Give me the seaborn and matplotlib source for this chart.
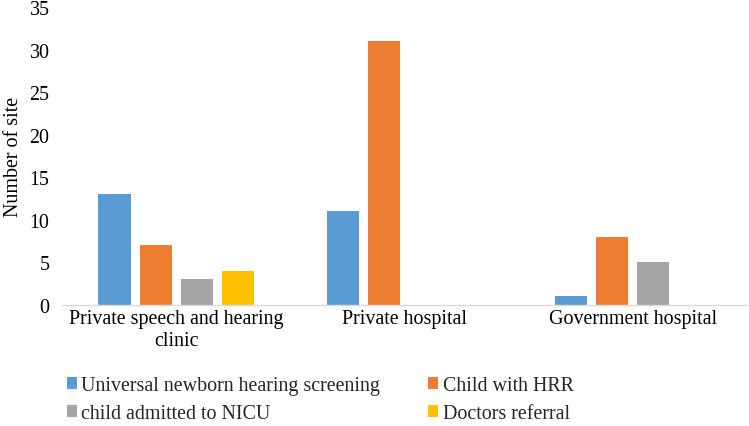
import matplotlib
matplotlib.use("Agg")
import matplotlib.pyplot as plt
import seaborn as sns
import pandas as pd
from matplotlib.patches import Patch

categories = ["Private speech and hearing\nclinic", "Private hospital", "Government hospital"]
series = ["Universal newborn hearing screening", "Child with HRR",
          "child admitted to NICU", "Doctors referral"]
universal = [13, 11, 1]
hrr = [7, 31, 8]
nicu = [3, 0, 5]
referral = [4, 0, 0]
colors = ["#5B9BD5", "#ED7D31", "#A5A5A5", "#FFC000"]
yticks = [0, 5, 10, 15, 20, 25, 30, 35]

rows = []
for s, vals in zip(series, [universal, hrr, nicu, referral]):
    for c, v in zip(categories, vals):
        rows.append({"cat": c, "series": s, "value": v})
df = pd.DataFrame(rows)

sns.set_theme(style="white")
plt.rcParams["font.family"] = ["Liberation Serif", "DejaVu Serif"]
FS = 14.4

fig = plt.figure(figsize=(7.49, 4.27), dpi=100)
ax = fig.add_axes([62/749, 1-306/427, (747-62)/749, (306-8)/427])

sns.barplot(data=df, x="cat", y="value", hue="series", order=categories,
            hue_order=series, palette=colors, saturation=1, width=0.72, gap=0.22,
            linewidth=0, ax=ax, legend=False)

ax.set_ylim(0, 35)
ax.set_yticks(yticks)
ax.set_xlim(-0.5, 2.5)
ax.set_xlabel("")
ax.set_ylabel("Number of site", fontsize=FS, color="black", labelpad=5)
ax.tick_params(axis="both", labelsize=FS, colors="black", length=0)
ax.tick_params(axis="y", pad=9)
ax.tick_params(axis="x", pad=3)
for s in ["left", "right", "top"]:
    ax.spines[s].set_visible(False)
ax.spines["bottom"].set_color("#D9D9D9")
ax.spines["bottom"].set_linewidth(1)

# legend filled row by row: (0,1) on first row, (2,3) on second
order = [0, 2, 1, 3]
handles = [Patch(facecolor=colors[i], edgecolor="none") for i in order]
labels = [series[i] for i in order]
fig.legend(handles, labels, loc="upper left", bbox_to_anchor=(67/749, 1-377/427),
           ncol=2, frameon=False, fontsize=FS, handlelength=0.5, handleheight=0.5,
           handletextpad=0.22, columnspacing=2.4, labelspacing=0.45,
           borderaxespad=0, borderpad=0)

fig.savefig("out.png", dpi=100)
